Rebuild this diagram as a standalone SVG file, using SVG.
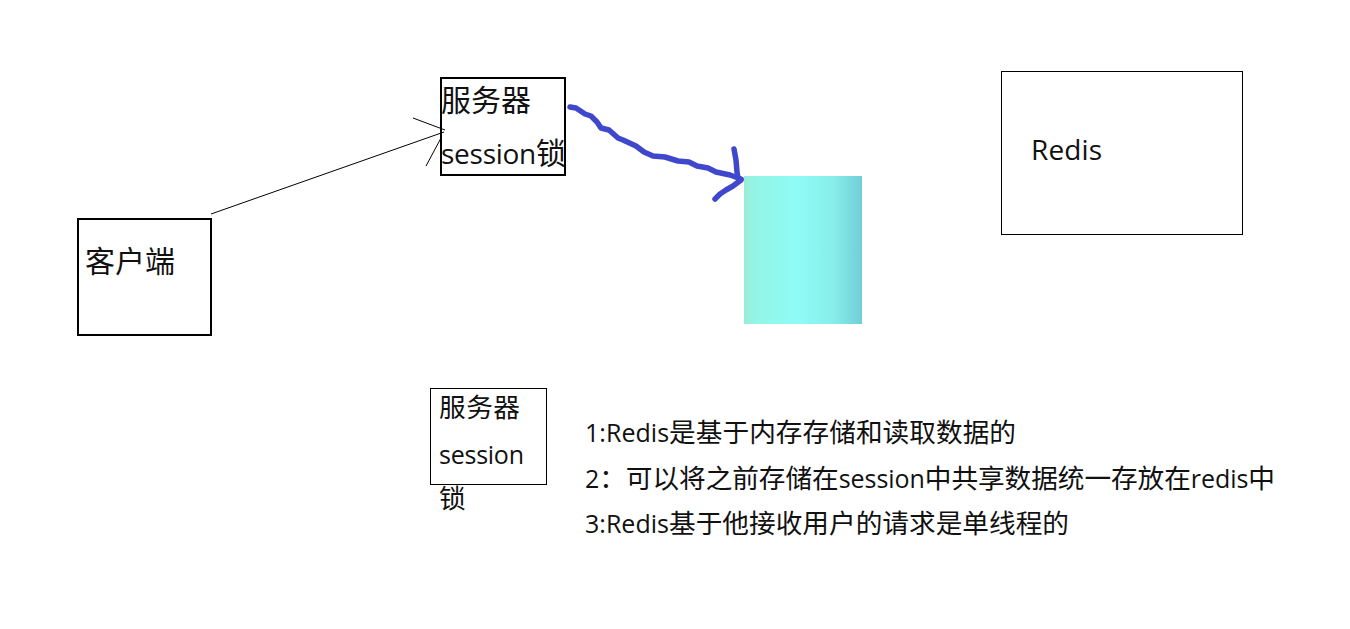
<svg xmlns="http://www.w3.org/2000/svg" width="1350" height="629" viewBox="0 0 1350 629">
<style>
text{font-family:"Noto Sans CJK SC","Open Sans",sans-serif;fill:#111}
.big{font-size:30px}
.mid{font-size:26.67px}
.lb{font-family:"Open Sans",sans-serif;font-size:28px}
.lm{font-family:"Open Sans",sans-serif;font-size:25px}
.box{fill:none;stroke:#000}
.thin{stroke-width:1}
.thick{stroke-width:2}
.pen{fill:none;stroke:#3f48cc;stroke-width:5.5;stroke-linecap:round;stroke-linejoin:round}
.line{fill:none;stroke:#000;stroke-width:1}
</style>
<defs>
<linearGradient id="cyl" x1="0" x2="1" y1="0" y2="0">
<stop offset="0" stop-color="#9aecd8"/>
<stop offset=".1" stop-color="#93f5e6"/>
<stop offset=".45" stop-color="#8efcf6"/>
<stop offset=".75" stop-color="#88eeea"/>
<stop offset="1" stop-color="#6fcfd8"/>
</linearGradient>
</defs>
<rect width="1350" height="629" fill="#fff"/>
<g id="connectors">
<path class="line" d="M211 214 L444 132"/>
<path class="line" d="M413 118 L445 130"/>
<path class="line" d="M426 166 L441 138"/>
<path class="pen" d="M570 107 L576 108 L585 114 L591 116 L597 122 L601 128 L609 130 L618 138 L623 140 L636 146 L644 152 L653 156 L665 157 L678 161 L689 162 L697 166 L708 168 L716 172 L730 175 L741 179"/>
<path class="pen" d="M734 149 L736 160 L737 172 L738 178"/>
<path class="pen" d="M741 180 L733 186 L726 190 L720 194 L715 199"/>
</g>
<g id="client">
<rect class="box thick" x="78" y="219" width="133" height="116"/>
<text class="big" x="85" y="272" textLength="90">客户端</text>
</g>
<g id="server-1">
<rect class="box thick" x="441" y="78" width="124" height="97"/>
<text class="big" x="441" y="111" textLength="90">服务器</text>
<text class="big" x="441" y="164" textLength="125"><tspan class="lb">session</tspan>锁</text>
</g>
<g id="cylinder">
<rect x="744" y="176" width="118" height="148" fill="url(#cyl)"/>
</g>
<g id="redis">
<rect class="box thin" x="1001.5" y="71.5" width="241" height="163"/>
<text class="lb" x="1031" y="160" textLength="71">Redis</text>
</g>
<g id="server-2">
<rect class="box thin" x="430.5" y="388.5" width="116" height="96"/>
<text class="mid" x="439" y="417" textLength="81">服务器</text>
<text class="lm" x="439" y="464" textLength="85">session</text>
<text class="mid" x="439" y="508" textLength="27">锁</text>
</g>
<g id="notes">
<text class="mid" x="585" y="442" textLength="431"><tspan class="lm">1:Redis</tspan>是基于内存存储和读取数据的</text>
<text class="mid" x="585" y="488" textLength="690"><tspan class="lm">2</tspan>：可以将之前存储在<tspan class="lm">session</tspan>中共享数据统一存放在<tspan class="lm">redis</tspan>中</text>
<text class="mid" x="585" y="533" textLength="484"><tspan class="lm">3:Redis</tspan>基于他接收用户的请求是单线程的</text>
</g>
</svg>
